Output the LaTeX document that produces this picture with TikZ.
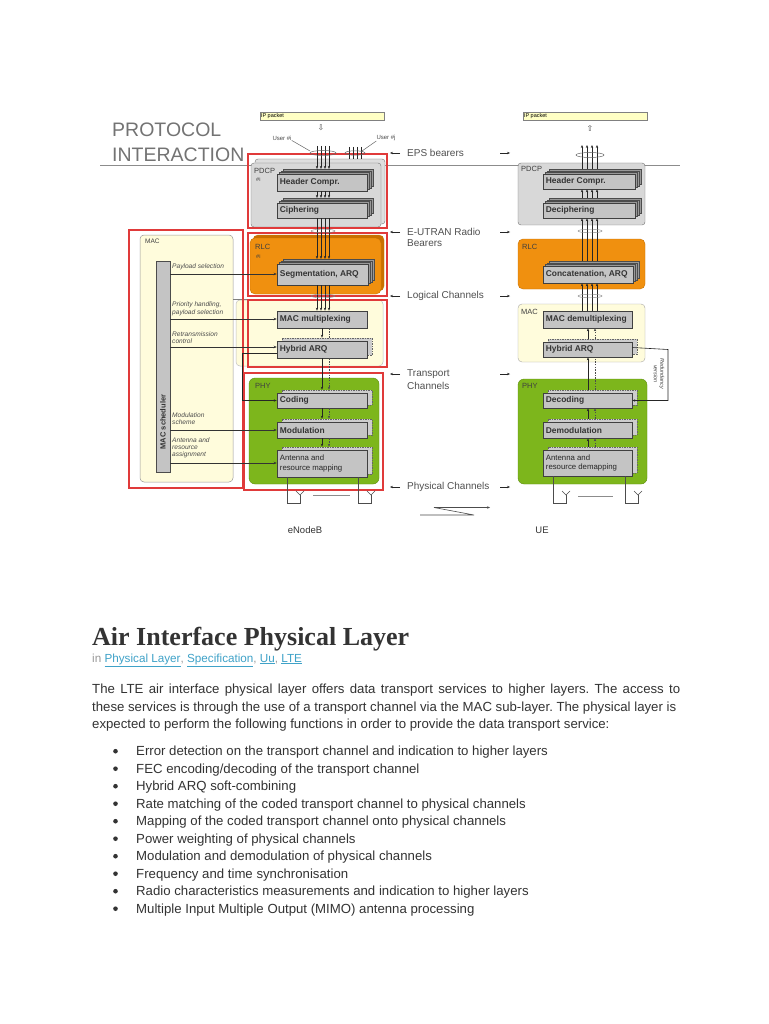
\documentclass[tikz,border=0pt]{standalone}
\usepackage{fontspec}
\setmainfont{Liberation Sans}
\newfontfamily\serifb{Liberation Serif}
\newfontfamily\dejavu{DejaVu Sans}
\usetikzlibrary{arrows.meta,calc}
\definecolor{redb}{HTML}{E03A3A}
\definecolor{orng}{HTML}{F0900F}
\definecolor{orngd}{HTML}{C87000}
\definecolor{grn}{HTML}{7DB61C}
\definecolor{grnd}{HTML}{5E8E10}
\definecolor{yel}{HTML}{FFFCDC}
\definecolor{ipy}{HTML}{FFFFC4}
\definecolor{boxg}{HTML}{C4C4C4}
\definecolor{pdcpg}{HTML}{D8D8D8}
\definecolor{txt}{HTML}{333333}
\definecolor{lbl}{HTML}{505050}
\definecolor{link}{HTML}{3FA2C8}
\frenchspacing
\tikzset{
  fbox/.style={draw=black!75, fill=boxg, line width=0.6pt, inner sep=0pt},
  btxt/.style={anchor=west, inner sep=0pt, align=left, font=\fontsize{8.4}{9}\selectfont\bfseries, text=black!80},
  ptxt/.style={anchor=west, inner sep=0pt, align=left, font=\fontsize{7.8}{9.2}\selectfont, text=black!85},
  back/.style={draw=black!70, fill=black!40, line width=0.5pt},
  dback/.style={draw=black!60, fill=boxg!85, line width=0.5pt, dash pattern=on 1.5pt off 1pt},
  redbox/.style={draw=redb, line width=1.5pt},
  arr/.style={-{Stealth[length=3pt,width=2.4pt]}, line width=0.6pt, draw=black!85},
  ln/.style={line width=0.6pt, draw=black!85},
  dln/.style={line width=0.6pt, draw=black!70, dash pattern=on 1.5pt off 1.2pt},
  chl/.style={anchor=west, inner sep=0pt, font=\fontsize{10}{11}\selectfont, text=lbl},
  sch/.style={anchor=west, inner sep=0pt, font=\fontsize{6.6}{7}\selectfont\itshape, text=black!70},
  ctag/.style={anchor=west, inner sep=0pt, font=\fontsize{7.5}{8}\selectfont, text=black!75},
  body/.style={anchor=base west, inner sep=0pt, font=\fontsize{13.2}{15}\selectfont, text=txt},
  sarr/.style={-{Stealth[length=3pt,width=2.6pt]}, line width=0.6pt, draw=black!80},
  ant/.style={line width=0.6pt, draw=black!70},
}
% solid stack box: name, x1,y1,x2,y2, text, text style
\newcommand{\stk}[7]{%
  \pgfmathsetmacro\mybw{#4-#2}\pgfmathsetmacro\mybh{#5-#3}%
  \pgfmathsetmacro\mycx{(#2+#4)/2}\pgfmathsetmacro\mycy{(#3+#5)/2}%
  \foreach \d in {3,2,1}{\draw[back] ({#2+2*\d},{#3-1.6*\d}) rectangle ({#4+2*\d},{#5-1.6*\d});}
  \node[fbox, minimum width=\mybw pt, minimum height=\mybh pt] (#1) at (\mycx,\mycy) {};
  \node[#7] at ([xshift=3pt]#1.west) {#6};}
% dashed stack box
\newcommand{\dstk}[7]{%
  \pgfmathsetmacro\mybw{#4-#2}\pgfmathsetmacro\mybh{#5-#3}%
  \pgfmathsetmacro\mycx{(#2+#4)/2}\pgfmathsetmacro\mycy{(#3+#5)/2}%
  \draw[dback] ({#2+5},{#3-3}) rectangle ({#4+5},{#5-3});
  \node[fbox, minimum width=\mybw pt, minimum height=\mybh pt] (#1) at (\mycx,\mycy) {};
  \node[#7] at ([xshift=3pt]#1.west) {#6};}
% plain box
\newcommand{\pbox}[7]{%
  \pgfmathsetmacro\mybw{#4-#2}\pgfmathsetmacro\mybh{#5-#3}%
  \pgfmathsetmacro\mycx{(#2+#4)/2}\pgfmathsetmacro\mycy{(#3+#5)/2}%
  \node[fbox, minimum width=\mybw pt, minimum height=\mybh pt] (#1) at (\mycx,\mycy) {};
  \node[#7] at ([xshift=3pt]#1.west) {#6};}
\begin{document}
\begin{tikzpicture}[x=1pt,y=-1pt]
\useasboundingbox (0,0) rectangle (768,1024);
\fill[white] (0,0) rectangle (768,1024);

% title
\node[anchor=base west, inner sep=0, font=\fontsize{19.5}{20}\selectfont, text=black!55] (pt1) at (112,137) {PROTOCOL};
\node[anchor=base west, inner sep=0, font=\fontsize{19.5}{20}\selectfont, text=black!55] (pt2) at (112,162) {INTERACTION};
\draw[black!45, line width=0.7pt] (100,165.5) -- (680,165.5);

% IP packets
\node[draw=black!50, fill=ipy, minimum width=124pt, minimum height=8pt, inner sep=0] (ipl) at (322,116) {};
\node[anchor=west, inner sep=0, font=\fontsize{5.5}{6}\selectfont] at ([xshift=1pt]ipl.west) {IP packet};
\node[draw=black!50, fill=ipy, minimum width=124pt, minimum height=8pt, inner sep=0] (ipr) at (585,116) {};
\node[anchor=west, inner sep=0, font=\fontsize{5.5}{6}\selectfont] at ([xshift=1pt]ipr.west) {IP packet};
\node[inner sep=0, font=\dejavu\fontsize{8}{8}\selectfont, text=black!70] (dnar) at (321,128) {⇩};
\node[inner sep=0, font=\dejavu\fontsize{8}{8}\selectfont, text=black!70] (upar) at (590,128) {⇧};

% user labels
\node[inner sep=0, font=\fontsize{6}{6}\selectfont, text=black!70] (ui) at (282,138) {User \#i};
\node[inner sep=0, font=\fontsize{6}{6}\selectfont, text=black!70] (uj) at (386,138) {User \#j};

% ===== containers =====
% left MAC
\draw[draw=black!40, fill=yel, rounded corners=4pt, line width=0.5pt] (140,235) rectangle (233,482);
\draw[draw=black!25, fill=yel, rounded corners=4pt, line width=0.5pt] (236,300) rectangle (383,366);
\draw[black!50, line width=0.5pt] (233,299) -- (248,299);
\node[ctag, font=\fontsize{6.5}{7}\selectfont] (macl) at (145,241) {MAC};
% left PDCP
\draw[draw=black!55, fill=pdcpg!85, rounded corners=3pt] (255,159) rectangle (385,224);
\draw[draw=black!55, fill=pdcpg, rounded corners=3pt] (251,163) rectangle (381,227);
\node[ctag] (pdcpl) at (254,171) {PDCP};
\node[ctag, font=\fontsize{5.5}{6}\selectfont] at (256,180) {\#i};
% left RLC
\draw[draw=orngd, fill=orngd, rounded corners=5pt] (253,235) rectangle (384,291);
\draw[draw=orngd, fill=orng, rounded corners=5pt] (250,238) rectangle (381,294);
\node[ctag] (rlcl) at (255,247) {RLC};
\node[ctag, font=\fontsize{5.5}{6}\selectfont] at (256,257) {\#i};
% left PHY
\draw[draw=grnd, fill=grn, rounded corners=6pt] (249,378) rectangle (379,484);
\node[ctag] (phyl) at (255,386) {PHY};

% right containers
\draw[draw=black!55, fill=pdcpg, rounded corners=3pt] (518,163) rectangle (645,225);
\node[ctag] (pdcpr) at (521,169) {PDCP};
\draw[draw=orngd, fill=orng, rounded corners=5pt] (518,239) rectangle (645,289);
\node[ctag] (rlcr) at (522,247) {RLC};
\draw[draw=black!35, fill=yel, rounded corners=4pt] (518,304) rectangle (645,362);
\node[ctag] (macr) at (521,312) {MAC};
\draw[draw=grnd, fill=grn, rounded corners=6pt] (518,379) rectangle (647,484);
\node[ctag] (phyr) at (522,386) {PHY};

% red boxes
\draw[redbox] (248,154) rectangle (387,228);
\draw[redbox] (248,233) rectangle (387,296);
\draw[redbox] (248,300) rectangle (387,367);
\draw[redbox] (244,373) rectangle (383,490);
\draw[redbox] (129,230) rectangle (243,488);

% ===== left boxes =====
\stk{HC}{277}{174}{367}{191}{Header Compr.}{btxt}
\stk{CI}{277}{203}{367}{218}{Ciphering}{btxt}
\stk{SG}{277}{264}{368}{285}{Segmentation, ARQ}{btxt}
\pbox{MM}{277}{311}{367}{328}{MAC multiplexing}{btxt}
\dstk{HQ}{277}{341}{367}{358}{Hybrid ARQ}{btxt}
\dstk{CO}{277}{393}{367}{408}{Coding}{btxt}
\dstk{MO}{277}{422}{367}{438}{Modulation}{btxt}
\dstk{AM}{277}{450}{367}{477}{Antenna and\\resource mapping}{ptxt}

% ===== right boxes =====
\stk{RHC}{543}{174}{635}{189}{Header Compr.}{btxt}
\stk{RDC}{543}{203}{635}{218}{Deciphering}{btxt}
\stk{RCA}{543}{266}{633}{283}{Concatenation, ARQ}{btxt}
\pbox{RMD}{543}{311}{632}{328}{MAC demultiplexing}{btxt}
\dstk{RHQ}{543}{342}{632}{357}{Hybrid ARQ}{btxt}
\dstk{RDE}{543}{393}{632}{408}{Decoding}{btxt}
\dstk{RDM}{543}{422}{632}{438}{Demodulation}{btxt}
\dstk{RAD}{543}{450}{632}{476}{Antenna and\\resource demapping}{ptxt}

% MAC scheduler
\node[draw=black!70, fill=boxg, minimum width=14pt, minimum height=211pt, inner sep=0] (sched) at (163,366.5) {};
\node[rotate=90, inner sep=0, font=\fontsize{7.5}{8}\selectfont\bfseries, text=black!80] at (163,422) {MAC scheduler};

% ===== left channels =====
\foreach \x in {317,321,325,329}{
  \draw[arr] (\x,146) -- ([yshift=4.8pt]\x,0 |- HC.north);
  \draw[arr] (\x,0 |- HC.south) -- ([yshift=4.8pt]\x,0 |- CI.north);
  \draw[arr] (\x,0 |- CI.south) -- ([yshift=4.8pt]\x,0 |- SG.north);
  \draw[arr] (\x,0 |- SG.south) -- (\x,0 |- MM.north);
}
\foreach \x in {349,353,357,361}{\draw[ln] (\x,147) -- (\x,159);}
\draw[black!60, line width=0.5pt] (323,153) ellipse (13 and 2.5);
\draw[black!60, line width=0.5pt] (355,153) ellipse (10 and 2.2);
\draw[black!60, line width=0.5pt] (ui.south east) -- (310,151);
\draw[black!60, line width=0.5pt] (uj.south west) -- (362,151);
\draw[black!50, line width=0.4pt] (323,231) ellipse (12 and 1.8);
\draw[black!50, line width=0.4pt] (323,296) ellipse (12 and 1.8);

\draw[arr] (322,0 |- MM.south) -- ([yshift=3pt]322,0 |- HQ.north);
\draw[dln] (329,0 |- MM.south) -- ([yshift=3pt]329,0 |- HQ.north);
\draw[arr] (322,0 |- HQ.south) -- ([yshift=3pt]322,0 |- CO.north);
\draw[dln,-{Stealth[length=3pt,width=2.4pt]}] (329,0 |- HQ.south) -- ([yshift=3pt]329,0 |- CO.north);
\draw[arr] (322,0 |- CO.south) -- ([yshift=3pt]322,0 |- MO.north);
\draw[dln,-{Stealth[length=3pt,width=2.4pt]}] (329,0 |- CO.south) -- ([yshift=3pt]329,0 |- MO.north);
\draw[arr] (322,0 |- MO.south) -- ([yshift=3pt]322,0 |- AM.north);
\draw[dln,-{Stealth[length=3pt,width=2.4pt]}] (329,0 |- MO.south) -- ([yshift=3pt]329,0 |- AM.north);

% redundancy path eNB
\draw[arr] ([yshift=-3.5pt]HQ.west) -- ++(-34,0) coordinate (rv1) |- (CO.west);

% scheduler lines
\draw[sarr] (sched.east |- 0,274) -- (SG.west |- 0,274);
\draw[sarr] (sched.east |- 0,319) -- (MM.west |- 0,319);
\draw[sarr] (sched.east |- 0,347) -- (HQ.west |- 0,347);
\draw[sarr] (sched.east |- 0,430) -- (MO.west |- 0,430);
\draw[sarr] (sched.east |- 0,463) -- (AM.west |- 0,463);
\node[sch] at (172,267) {Payload selection};
\node[sch] at (172,305) {Priority handling,};
\node[sch] at (172,312.5) {payload selection};
\node[sch] at (172,334) {Retransmission};
\node[sch] at (172,341.5) {control};
\node[sch] at (172,415) {Modulation};
\node[sch] at (172,422.5) {scheme};
\node[sch] at (172,440) {Antenna and};
\node[sch] at (172,447.5) {resource};
\node[sch] at (172,455) {assignment};

% ===== right channels =====
\foreach \x in {582,587,592,597}{
  \draw[arr] ([yshift=4.8pt]\x,0 |- RHC.north) -- (\x,145);
  \draw[arr] ([yshift=4.8pt]\x,0 |- RDC.north) -- (\x,0 |- RHC.south);
  \draw[arr] ([yshift=4.8pt]\x,0 |- RCA.north) -- (\x,0 |- RDC.south);
  \draw[arr] (\x,0 |- RMD.north) -- (\x,0 |- RCA.south);
}
\draw[black!60, line width=0.5pt] (590,155) ellipse (14 and 2.5);
\draw[black!50, line width=0.4pt] (590,231) ellipse (12 and 1.8);
\draw[black!50, line width=0.4pt] (590,296) ellipse (12 and 1.8);
\draw[arr] ([yshift=3pt]588,0 |- RHQ.north) -- (588,0 |- RMD.south);
\draw[dln,-{Stealth[length=3pt,width=2.4pt]}] ([yshift=3pt]595,0 |- RHQ.north) -- (595,0 |- RMD.south);
\draw[arr] ([yshift=3pt]588,0 |- RDE.north) -- (588,0 |- RHQ.south);
\draw[dln] ([yshift=3pt]595,0 |- RDE.north) -- (595,0 |- RHQ.south);
\draw[arr] ([yshift=3pt]588,0 |- RDM.north) -- (588,0 |- RDE.south);
\draw[dln,-{Stealth[length=3pt,width=2.4pt]}] ([yshift=3pt]595,0 |- RDM.north) -- (595,0 |- RDE.south);
\draw[arr] ([yshift=3pt]588,0 |- RAD.north) -- (588,0 |- RDM.south);
\draw[dln,-{Stealth[length=3pt,width=2.4pt]}] ([yshift=3pt]595,0 |- RAD.north) -- (595,0 |- RDM.south);

% redundancy version UE
\draw[arr] ([yshift=2pt]RHQ.east) -- (668,0 |- RHQ.east) coordinate (rv2) -- (668,0 |- RDE.east) -- (RDE.east);
\node[rotate=-90, inner sep=0, align=center, font=\fontsize{5.5}{6.5}\selectfont\itshape, text=black!75] (rvt) at (659,374) {Redundancy\\version};

% antennas
\foreach \ax/\nm in {287/AM, 358/AM, 553/RAD, 625/RAD}{
  \draw[ant] (\ax,0 |- \nm.south) -- (\ax,503) -- ({\ax+13},503) -- ({\ax+13},495);
  \draw[ant] ({\ax+9},491) -- ({\ax+13},495) -- ({\ax+17},491);
}
\draw[black!45, line width=0.6pt] (313,495) -- (350,495);
\draw[black!45, line width=0.6pt] (578,496) -- (613,496);

% channel labels
\node[chl] (eps) at (407,153) {EPS bearers};
\node[chl] (eut1) at (407,232) {E-UTRAN Radio};
\node[chl] (eut2) at (407,243) {Bearers};
\node[chl] (logc) at (407,296) {Logical Channels};
\node[chl] (tr1) at (407,374) {Transport};
\node[chl] (tr2) at (407,386) {Channels};
\node[chl] (phc) at (407,487) {Physical Channels};
\foreach \yy in {153,232,296,374,487}{
  \draw[arr] (400,\yy) -- (390,\yy);
  \draw[arr] (500,\yy) -- (510,\yy);
}
% radio link
\draw[arr, draw=black!70] (420,515) -- (474,515) -- (434,507.5) -- (490,507.5);
\node[inner sep=0, font=\fontsize{9.5}{10}\selectfont, text=black!80] (enb) at (305,530) {eNodeB};
\node[inner sep=0, font=\fontsize{9.5}{10}\selectfont, text=black!80] (ue) at (542,530) {UE};

% ===== text section =====
\node[anchor=base west, inner sep=0, font=\serifb\bfseries\fontsize{26}{30}\selectfont, text=txt] (title) at (92,645) {Air Interface Physical Layer};
\node[anchor=base west, inner sep=0, font=\fontsize{11.7}{13}\selectfont, text=black!40] (tags) at (92,662) {in \textcolor{link}{\underline{Physical Layer}}, \textcolor{link}{\underline{Specification}}, \textcolor{link}{\underline{Uu}}, \textcolor{link}{\underline{LTE}}};
\node[body] (p1) at (92,693) {\makebox[588pt][s]{The LTE air interface physical layer offers data transport services to higher layers. The access to}};
\node[body] (p2) at (92,711) {these services is through the use of a transport channel via the MAC sub-layer. The physical layer is};
\node[body] (p3) at (92,728) {expected to perform the following functions in order to provide the data transport service:};
\foreach \yy/\tt in {
 755.5/{Error detection on the transport channel and indication to higher layers},
 773/{FEC encoding/decoding of the transport channel},
 790.5/{Hybrid ARQ soft-combining},
 808/{Rate matching of the coded transport channel to physical channels},
 825.5/{Mapping of the coded transport channel onto physical channels},
 843/{Power weighting of physical channels},
 860.5/{Modulation and demodulation of physical channels},
 878/{Frequency and time synchronisation},
 895.5/{Radio characteristics measurements and indication to higher layers},
 913/{Multiple Input Multiple Output (MIMO) antenna processing}}{
  \node[body] at (136,\yy) {\tt};
  \fill[txt] (115.5,\yy-4.3) circle (2.3pt);
}
\end{tikzpicture}
\end{document}
